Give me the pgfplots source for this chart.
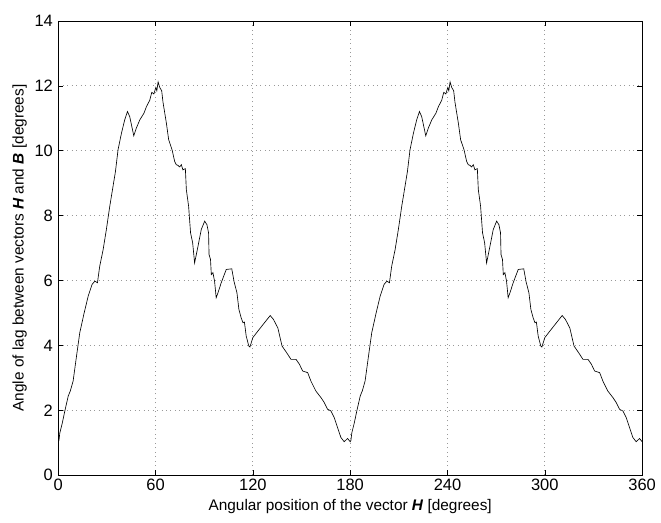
\documentclass[border=0pt]{standalone}
\usepackage{fontspec}
\setmainfont{Liberation Sans}
\usepackage{pgfplots}
\pgfplotsset{compat=1.18}
\begin{document}
\fontsize{15.4pt}{18pt}\selectfont
\begin{tikzpicture}
\begin{axis}[
  scale only axis,
  width=585pt, height=455pt,
  xmin=0, xmax=360, ymin=0, ymax=14,
  xtick={0,60,...,360}, ytick={0,2,...,14},
  grid=major,
  major grid style={dash pattern=on 0.9pt off 3.6pt, gray!80, line width=0.7pt},
  tick align=inside,
  major tick length=5pt,
  tick style={black, line width=0.6pt},
  axis line style={line width=0.8pt},
  /pgf/number format/assume math mode=true,
  ticklabel style={font=\fontsize{16.5pt}{19pt}\selectfont},
  label style={font=\fontsize{15.4pt}{18pt}\selectfont},
  xticklabel style={yshift=1pt},
  xlabel={Angular position of the vector \textbf{\textit{H}} [degrees]},
  ylabel={Angle of lag between vectors \textbf{\textit{H}} and \textbf{\textit{B}} [degrees]},
  xlabel style={at={(axis description cs:0.5,-0.07)}, anchor=center},
  ylabel style={at={(axis description cs:-0.066,0.5)}, anchor=center},
]
\addplot[black, line width=0.65pt] coordinates {
(0,1.0)(0.5,1.08)(1,1.3)(2.5,1.6)(4.1,1.98)(6.2,2.44)(7.5,2.6)(9.2,2.9)(11.3,3.67)(13.3,4.39)(16,5.0)(18.5,5.52)(20.9,5.88)(22.6,5.98)(24.2,5.93)(25.6,6.44)(27.7,6.95)(29.7,7.57)(31.8,8.29)(33.8,8.9)(35.3,9.36)(36.9,10.03)(39,10.54)(41,10.95)(42.7,11.21)(44.1,11.05)(46.6,10.46)(48.2,10.7)(50.3,10.95)(52.9,11.16)(54.4,11.36)(56.4,11.55)(57.7,11.8)(59,11.75)(60.2,11.95)(60.8,11.85)(61.6,12.12)(62.6,11.95)(63.8,11.85)(64.6,11.5)(66.7,10.85)(68.1,10.34)(70.2,10.03)(71.8,9.67)(72.8,9.57)(73.8,9.55)(74.9,9.5)(75.9,9.57)(76.9,9.41)(78.4,9.45)(79,8.8)(80.4,8.29)(81.6,7.47)(82.9,7.16)(84.1,6.54)(86.2,7.06)(88.2,7.57)(90.3,7.83)(91.7,7.72)(92.7,7.47)(93,6.8)(93.9,6.65)(94.4,6.18)(95.4,6.24)(96.4,5.98)(97.4,5.47)(98.5,5.62)(100.5,5.93)(103.6,6.34)(107,6.36)(108.5,5.95)(110.2,5.62)(111.4,5.11)(112.8,4.85)(113.9,4.7)(114.8,4.72)(115.9,4.29)(117.5,3.98)(118.2,3.95)(120,4.24)(123.1,4.44)(127.2,4.7)(130.7,4.92)(132.7,4.8)(135.4,4.54)(138,3.98)(140.9,3.77)(143.5,3.57)(146.6,3.57)(148.7,3.42)(150.7,3.21)(153.8,3.16)(155.8,2.9)(158.9,2.59)(162,2.39)(164,2.24)(166.1,2.03)(168.1,1.98)(170.2,1.77)(172.2,1.47)(174.3,1.16)(176.3,1.03)(178.4,1.13)(180,1.03)
(180.5,1.08)(181,1.3)(182.5,1.6)(184.1,1.98)(186.2,2.44)(187.5,2.6)(189.2,2.9)(191.3,3.67)(193.3,4.39)(196,5.0)(198.5,5.52)(200.9,5.88)(202.6,5.98)(204.2,5.93)(205.6,6.44)(207.7,6.95)(209.7,7.57)(211.8,8.29)(213.8,8.9)(215.3,9.36)(216.9,10.03)(219,10.54)(221,10.95)(222.7,11.21)(224.1,11.05)(226.6,10.46)(228.2,10.7)(230.3,10.95)(232.9,11.16)(234.4,11.36)(236.4,11.55)(237.7,11.8)(239,11.75)(240.2,11.95)(240.8,11.85)(241.6,12.12)(242.6,11.95)(243.8,11.85)(244.6,11.5)(246.7,10.85)(248.1,10.34)(250.2,10.03)(251.8,9.67)(252.8,9.57)(253.8,9.55)(254.9,9.5)(255.9,9.57)(256.9,9.41)(258.4,9.45)(259,8.8)(260.4,8.29)(261.6,7.47)(262.9,7.16)(264.1,6.54)(266.2,7.06)(268.2,7.57)(270.3,7.83)(271.7,7.72)(272.7,7.47)(273,6.8)(273.9,6.65)(274.4,6.18)(275.4,6.24)(276.4,5.98)(277.4,5.47)(278.5,5.62)(280.5,5.93)(283.6,6.34)(287,6.36)(288.5,5.95)(290.2,5.62)(291.4,5.11)(292.8,4.85)(293.9,4.7)(294.8,4.72)(295.9,4.29)(297.5,3.98)(298.2,3.95)(300,4.24)(303.1,4.44)(307.2,4.7)(310.7,4.92)(312.7,4.8)(315.4,4.54)(318,3.98)(320.9,3.77)(323.5,3.57)(326.6,3.57)(328.7,3.42)(330.7,3.21)(333.8,3.16)(335.8,2.9)(338.9,2.59)(342,2.39)(344,2.24)(346.1,2.03)(348.1,1.98)(350.2,1.77)(352.2,1.47)(354.3,1.16)(356.3,1.03)(358.4,1.13)(360,1.03)
};
\coordinate (ll) at (rel axis cs:0,0);
\coordinate (ur) at (rel axis cs:1,1);
\end{axis}
\path ([shift={(-58.3pt,-47pt)}]ll) rectangle ([shift={(17.7pt,21pt)}]ur);
\end{tikzpicture}
\end{document}
